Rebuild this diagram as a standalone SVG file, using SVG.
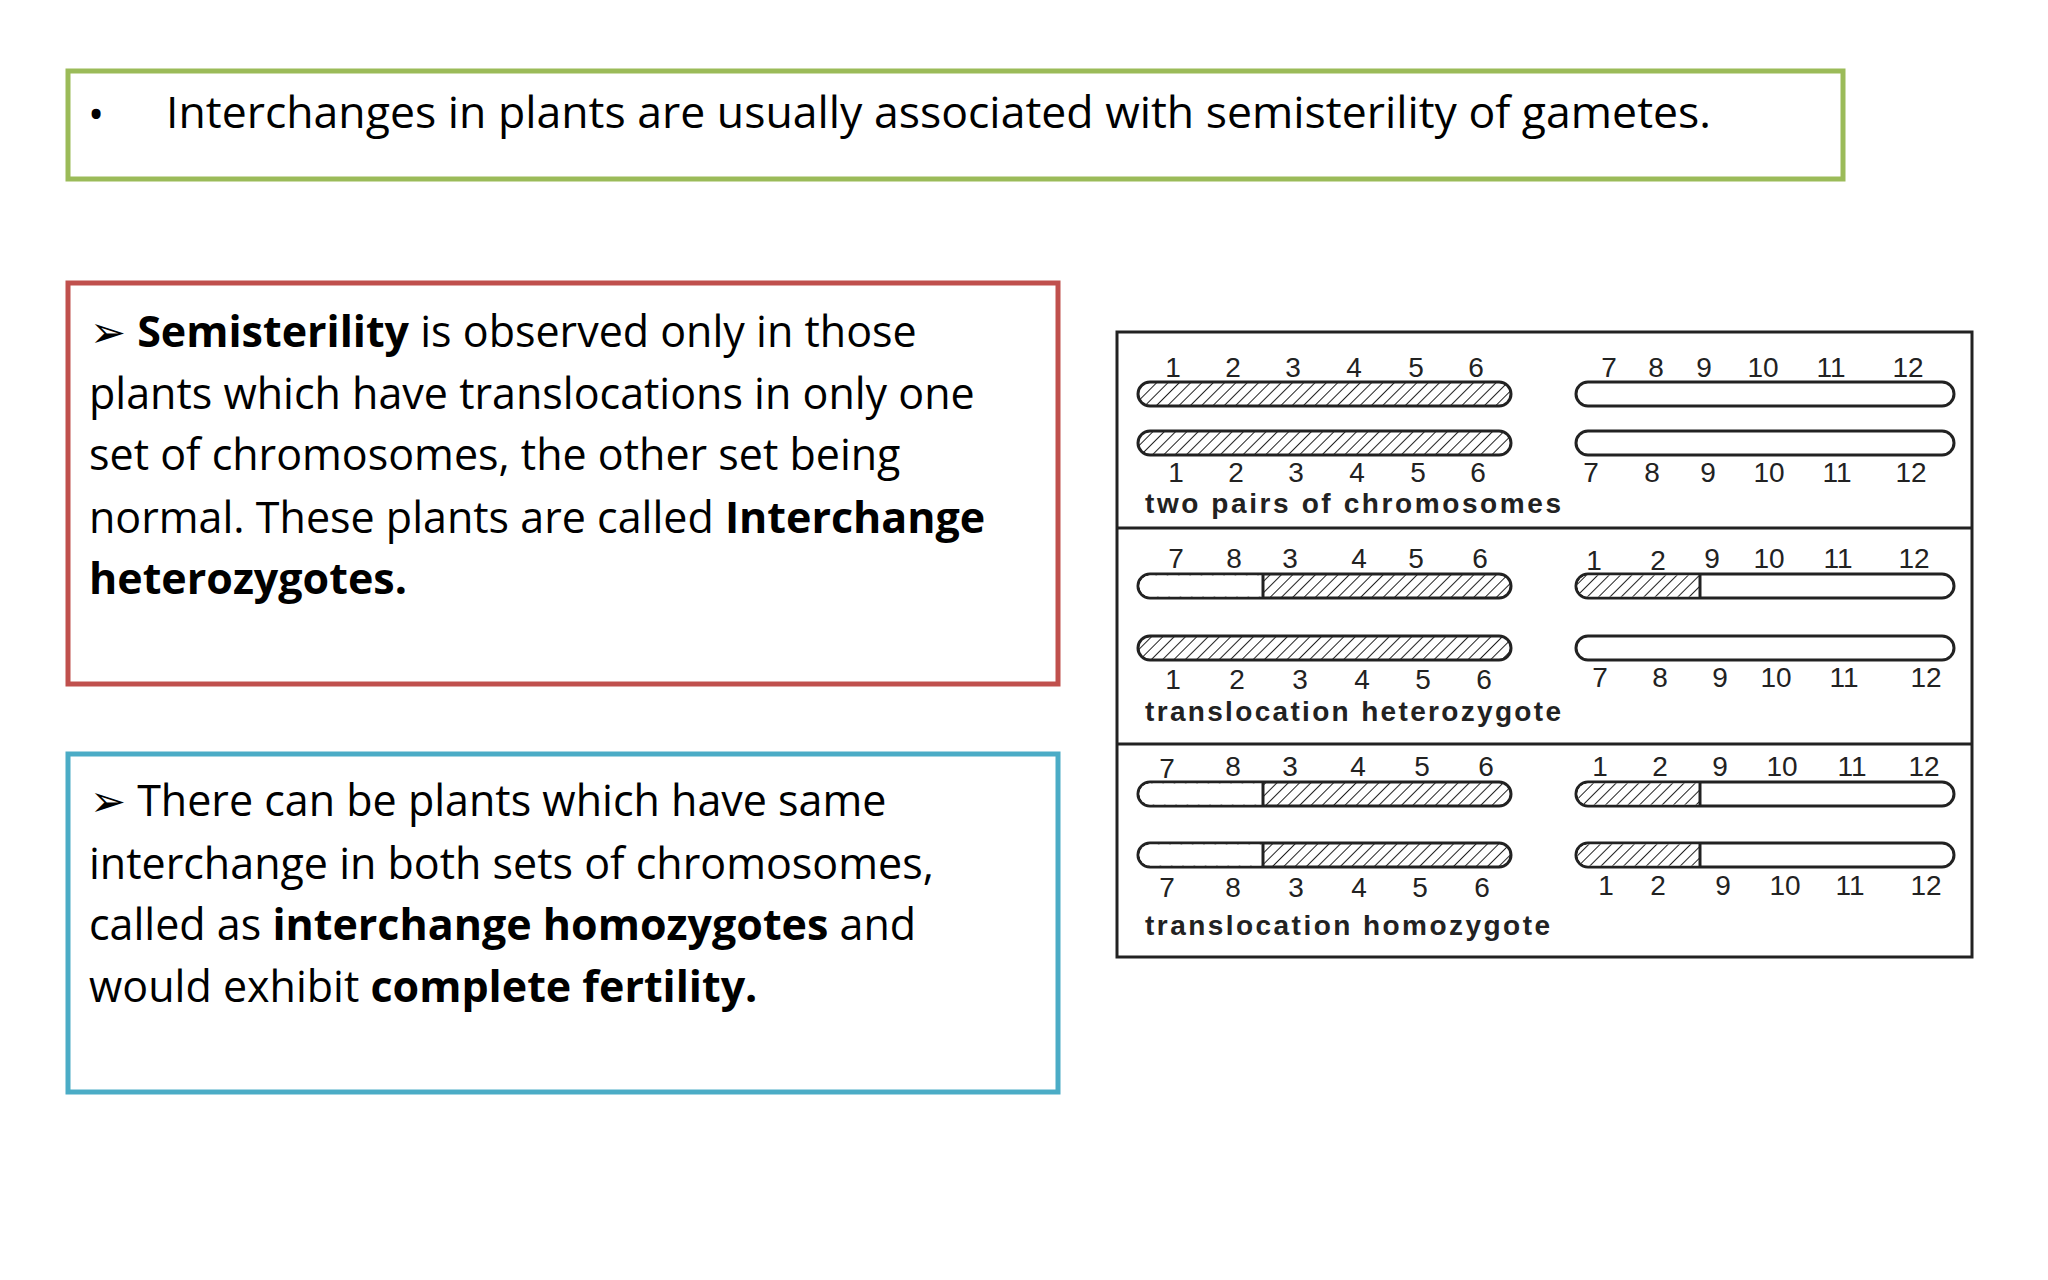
<svg xmlns="http://www.w3.org/2000/svg" width="2048" height="1280" viewBox="0 0 2048 1280">
<defs>
<pattern id="h" width="8" height="8" patternUnits="userSpaceOnUse" patternTransform="rotate(45)">
<rect width="8" height="8" fill="#fff"/><line x1="0" y1="0" x2="0" y2="8" stroke="#222" stroke-width="2"/>
</pattern>
</defs>
<style>
.t{font-family:"Open Sans","Liberation Sans",sans-serif;font-size:43px;fill:#000}
.b{font-weight:bold}
.n{font-family:"Liberation Sans",sans-serif;font-size:28px;fill:#222;text-anchor:middle}
.c{font-family:"Liberation Sans",sans-serif;font-size:28px;fill:#222;font-weight:bold}
.bar{fill:#fff;stroke:#222;stroke-width:3}
</style>
<rect width="2048" height="1280" fill="#fff"/>
<g id="top">
<rect x="68" y="71" width="1775" height="108" fill="#fff" stroke="#9BBB59" stroke-width="5"/>
<text class="t" x="88" y="130">•</text>
<text class="t" x="166" y="128" textLength="1545" lengthAdjust="spacingAndGlyphs">Interchanges in plants are usually associated with semisterility of gametes.</text>
</g>
<g id="red">
<rect x="68" y="283" width="990" height="401" fill="#fff" stroke="#C0504D" stroke-width="5"/>
<text class="t" x="90" y="347">➢ <tspan class="b">Semisterility</tspan> is observed only in those</text>
<text class="t" x="89" y="409">plants which have translocations in only one</text>
<text class="t" x="89" y="470">set of chromosomes, the other set being</text>
<text class="t" x="89" y="533">normal. These plants are called <tspan class="b">Interchange</tspan></text>
<text class="t b" x="89" y="594">heterozygotes.</text>
</g>
<g id="blue">
<rect x="68" y="754" width="990" height="338" fill="#fff" stroke="#4BACC6" stroke-width="5"/>
<text class="t" x="90" y="816">➢ There can be plants which have same</text>
<text class="t" x="89" y="879">interchange in both sets of chromosomes,</text>
<text class="t" x="89" y="940">called as <tspan class="b">interchange homozygotes</tspan> and</text>
<text class="t" x="89" y="1002">would exhibit <tspan class="b">complete fertility.</tspan></text>
</g>
<g id="figure">
<rect x="1117" y="332" width="855" height="625" fill="#fff" stroke="#222" stroke-width="3"/>
<line x1="1117" y1="528" x2="1972" y2="528" stroke="#222" stroke-width="3"/>
<line x1="1117" y1="744" x2="1972" y2="744" stroke="#222" stroke-width="3"/>
<rect class="bar" x="1138" y="382" width="373" height="24" rx="12" style="fill:url(#h)"/>
<rect class="bar" x="1138" y="431" width="373" height="24" rx="12" style="fill:url(#h)"/>
<rect class="bar" x="1576" y="382" width="378" height="24" rx="12"/>
<rect class="bar" x="1576" y="431" width="378" height="24" rx="12"/>
<rect class="bar" x="1138" y="574" width="373" height="24" rx="12" style="fill:url(#h)"/>
<path d="M1263 575.5 H1150 a10.5 10.5 0 0 0 0 21 H1263 Z" fill="#fff"/>
<line x1="1263" y1="574" x2="1263" y2="598" stroke="#222" stroke-width="3"/>
<rect class="bar" x="1138" y="636" width="373" height="24" rx="12" style="fill:url(#h)"/>
<rect class="bar" x="1576" y="574" width="378" height="24" rx="12"/>
<path d="M1700 575.5 H1588 a10.5 10.5 0 0 0 0 21 H1700 Z" fill="url(#h)"/>
<line x1="1700" y1="574" x2="1700" y2="598" stroke="#222" stroke-width="3"/>
<rect class="bar" x="1576" y="636" width="378" height="24" rx="12"/>
<rect class="bar" x="1138" y="782" width="373" height="24" rx="12" style="fill:url(#h)"/>
<path d="M1263 783.5 H1150 a10.5 10.5 0 0 0 0 21 H1263 Z" fill="#fff"/>
<line x1="1263" y1="782" x2="1263" y2="806" stroke="#222" stroke-width="3"/>
<rect class="bar" x="1138" y="843" width="373" height="24" rx="12" style="fill:url(#h)"/>
<path d="M1263 844.5 H1150 a10.5 10.5 0 0 0 0 21 H1263 Z" fill="#fff"/>
<line x1="1263" y1="843" x2="1263" y2="867" stroke="#222" stroke-width="3"/>
<rect class="bar" x="1576" y="782" width="378" height="24" rx="12"/>
<path d="M1700 783.5 H1588 a10.5 10.5 0 0 0 0 21 H1700 Z" fill="url(#h)"/>
<line x1="1700" y1="782" x2="1700" y2="806" stroke="#222" stroke-width="3"/>
<rect class="bar" x="1576" y="843" width="378" height="24" rx="12"/>
<path d="M1700 844.5 H1588 a10.5 10.5 0 0 0 0 21 H1700 Z" fill="url(#h)"/>
<line x1="1700" y1="843" x2="1700" y2="867" stroke="#222" stroke-width="3"/>
<g class="n">
<text x="1173" y="377">1</text><text x="1233" y="377">2</text><text x="1293" y="377">3</text><text x="1354" y="377">4</text><text x="1416" y="377">5</text><text x="1476" y="377">6</text>
<text x="1609" y="377">7</text><text x="1656" y="377">8</text><text x="1704" y="377">9</text><text x="1763" y="377">10</text><text x="1831" y="377">11</text><text x="1908" y="377">12</text>
<text x="1176" y="482">1</text><text x="1236" y="482">2</text><text x="1296" y="482">3</text><text x="1357" y="482">4</text><text x="1418" y="482">5</text><text x="1478" y="482">6</text>
<text x="1591" y="482">7</text><text x="1652" y="482">8</text><text x="1708" y="482">9</text><text x="1769" y="482">10</text><text x="1837" y="482">11</text><text x="1911" y="482">12</text>
<text x="1176" y="568">7</text><text x="1234" y="568">8</text><text x="1290" y="568">3</text><text x="1359" y="568">4</text><text x="1416" y="568">5</text><text x="1480" y="568">6</text>
<text x="1594" y="570">1</text><text x="1658" y="570">2</text><text x="1712" y="568">9</text><text x="1769" y="568">10</text><text x="1838" y="568">11</text><text x="1914" y="568">12</text>
<text x="1173" y="689">1</text><text x="1237" y="689">2</text><text x="1300" y="689">3</text><text x="1362" y="689">4</text><text x="1423" y="689">5</text><text x="1484" y="689">6</text>
<text x="1600" y="687">7</text><text x="1660" y="687">8</text><text x="1720" y="687">9</text><text x="1776" y="687">10</text><text x="1844" y="687">11</text><text x="1926" y="687">12</text>
<text x="1167" y="778">7</text><text x="1233" y="776">8</text><text x="1290" y="776">3</text><text x="1358" y="776">4</text><text x="1422" y="776">5</text><text x="1486" y="776">6</text>
<text x="1600" y="776">1</text><text x="1660" y="776">2</text><text x="1720" y="776">9</text><text x="1782" y="776">10</text><text x="1852" y="776">11</text><text x="1924" y="776">12</text>
<text x="1167" y="897">7</text><text x="1233" y="897">8</text><text x="1296" y="897">3</text><text x="1359" y="897">4</text><text x="1420" y="897">5</text><text x="1482" y="897">6</text>
<text x="1606" y="895">1</text><text x="1658" y="895">2</text><text x="1723" y="895">9</text><text x="1785" y="895">10</text><text x="1850" y="895">11</text><text x="1926" y="895">12</text>
</g>
<text class="c" x="1145" y="513" textLength="416">two pairs of  chromosomes</text>
<text class="c" x="1145" y="721" textLength="416">translocation  heterozygote</text>
<text class="c" x="1145" y="935" textLength="405">translocation  homozygote</text>
</g>
</svg>
